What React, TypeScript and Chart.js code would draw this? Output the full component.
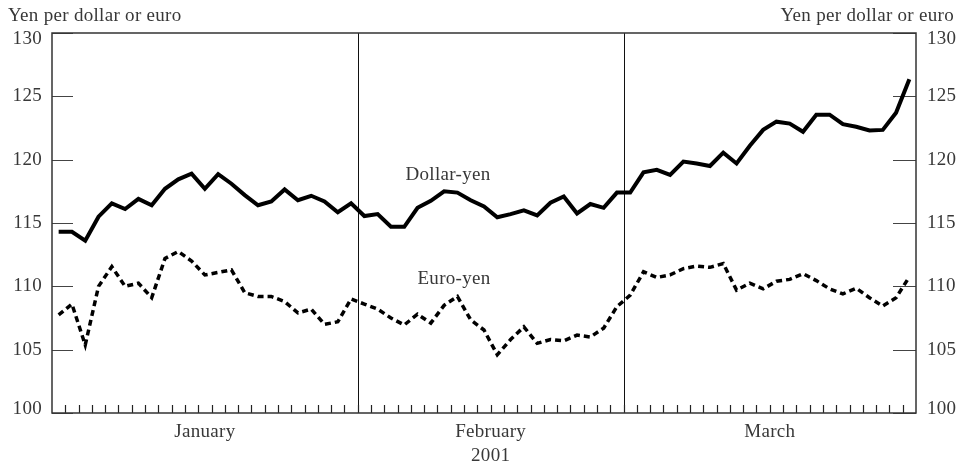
import React, { useEffect, useRef } from "react";
import { Chart, registerables } from "chart.js";

Chart.register(...registerables);

// Business days of each month, 2001
const janDays = [1, 2, 3, 4, 5, 8, 9, 10, 11, 12, 15, 16, 17, 18, 19, 22, 23, 24, 25, 26, 29, 30, 31];
const febDays = [1, 2, 5, 6, 7, 8, 9, 12, 13, 14, 15, 16, 19, 20, 21, 22, 23, 26, 27, 28];
const marDays = [1, 2, 5, 6, 7, 8, 9, 12, 13, 14, 15, 16, 19, 20, 21, 22, 23, 26, 27, 28, 29, 30];
const monthNames = ["January", "February", "March"];
const yearLabel = "2001";
const yTicks = [100, 105, 110, 115, 120, 125, 130];
const axisTitle = "Yen per dollar or euro";

const dollarYen = [
  114.3, 114.3, 113.6, 115.5, 116.55, 116.1, 116.9, 116.4, 117.7, 118.45, 118.9, 117.7,
  118.85, 118.1, 117.2, 116.4, 116.7, 117.65, 116.8, 117.15, 116.7, 115.85, 116.55,
  115.55, 115.7, 114.7, 114.7, 116.2, 116.75, 117.5, 117.4, 116.8, 116.3, 115.45, 115.7,
  116.0, 115.6, 116.6, 117.1, 115.75, 116.5, 116.2, 117.4,
  117.4, 119.0, 119.2, 118.8, 119.85, 119.7, 119.5, 120.55, 119.7, 121.1, 122.35, 123.0,
  122.85, 122.2, 123.55, 123.55, 122.8, 122.6, 122.3, 122.35, 123.7, 126.35,
];

const euroYen = [
  107.74, 108.6, 105.37, 110.0, 111.55, 110.0, 110.25, 109.1, 112.2, 112.75, 112.0, 110.9,
  111.1, 111.3, 109.5, 109.2, 109.2, 108.8, 107.9, 108.2, 107.0, 107.2, 109.0,
  108.6, 108.2, 107.5, 106.95, 107.8, 107.1, 108.5, 109.2, 107.35, 106.55, 104.6, 105.8,
  106.8, 105.5, 105.8, 105.7, 106.15, 106.0, 106.7, 108.4,
  109.3, 111.15, 110.7, 110.9, 111.4, 111.6, 111.5, 111.8, 109.7, 110.25, 109.8, 110.4,
  110.55, 111.0, 110.45, 109.8, 109.4, 109.85, 109.1, 108.45, 109.1, 110.75,
];

const categories = [
  ...janDays.map((d) => `Jan ${d}`),
  ...febDays.map((d) => `Feb ${d}`),
  ...marDays.map((d) => `Mar ${d}`),
];
const monthCounts = [janDays.length, febDays.length, marDays.length];

const FONT = "19px 'Liberation Serif', 'Times New Roman', serif";
const TEXT = "#383838";

const decorPlugin = {
  id: "decor",
  beforeDatasetsDraw(chart: any) {
    const { ctx, chartArea } = chart;
    const x = chart.scales.x;
    const y = chart.scales.y;
    const step = x.getPixelForValue(1) - x.getPixelForValue(0);
    const { left, right, top, bottom } = chartArea;
    ctx.save();
    // month dividers
    ctx.strokeStyle = "#111";
    ctx.lineWidth = 1;
    let idx = 0;
    for (let m = 0; m < monthCounts.length - 1; m++) {
      idx += monthCounts[m];
      const px = Math.round(x.getPixelForValue(idx) - step / 2) + 0.5;
      ctx.beginPath();
      ctx.moveTo(px, top);
      ctx.lineTo(px, bottom);
      ctx.stroke();
    }
    // bottom ticks (inward)
    ctx.strokeStyle = "#222";
    ctx.lineWidth = 1.2;
    for (let i = 1; i < categories.length; i++) {
      const px = Math.round(x.getPixelForValue(i) - step / 2) + 0.5;
      ctx.beginPath();
      ctx.moveTo(px, bottom);
      ctx.lineTo(px, bottom - 8);
      ctx.stroke();
    }
    // y ticks (inward, both sides)
    ctx.strokeStyle = "#444";
    ctx.lineWidth = 1.2;
    for (const v of yTicks) {
      const py = Math.round(y.getPixelForValue(v)) + 0.5;
      ctx.beginPath();
      ctx.moveTo(left, py);
      ctx.lineTo(left + 21, py);
      ctx.moveTo(right, py);
      ctx.lineTo(right - 23, py);
      ctx.stroke();
    }
    // frame
    ctx.strokeStyle = "#333";
    ctx.lineWidth = 1.5;
    ctx.strokeRect(left, top, right - left, bottom - top);
    ctx.restore();
  },
  afterDraw(chart: any) {
    const { ctx, chartArea } = chart;
    const x = chart.scales.x;
    const y = chart.scales.y;
    const step = x.getPixelForValue(1) - x.getPixelForValue(0);
    const { left, right, bottom } = chartArea;
    ctx.save();
    ctx.font = FONT;
    ctx.fillStyle = TEXT;
    try {
      (ctx as any).letterSpacing = "0.3px";
    } catch (e) {}
    // axis titles
    ctx.textBaseline = "alphabetic";
    ctx.textAlign = "left";
    ctx.fillText(axisTitle, 8, 21);
    ctx.textAlign = "right";
    ctx.fillText(axisTitle, 954, 21);
    // y tick labels
    ctx.textBaseline = "middle";
    for (const v of yTicks) {
      let py = y.getPixelForValue(v);
      if (v === 130) py += 6;
      if (v === 100) py -= 4;
      ctx.textAlign = "right";
      ctx.fillText(String(v), left - 10, py);
      ctx.textAlign = "left";
      ctx.fillText(String(v), right + 11, py);
    }
    // month labels
    ctx.textAlign = "center";
    ctx.textBaseline = "alphabetic";
    let start = 0;
    const centers: number[] = [];
    for (let m = 0; m < monthCounts.length; m++) {
      const a = x.getPixelForValue(start) - step / 2;
      const b = x.getPixelForValue(start + monthCounts[m] - 1) + step / 2;
      const c = (a + b) / 2;
      centers.push(c);
      ctx.fillText(monthNames[m], c, bottom + 24);
      start += monthCounts[m];
    }
    ctx.fillText(yearLabel, centers[1], bottom + 48);
    // series labels
    ctx.fillText("Dollar-yen", 448, 180);
    ctx.fillText("Euro-yen", 454, 284);
    ctx.restore();
  },
};

export default function App() {
  const ref = useRef<HTMLCanvasElement | null>(null);
  useEffect(() => {
    if (!ref.current) return;
    const chart = new Chart(ref.current, {
      type: "line",
      data: {
        labels: categories,
        datasets: [
          {
            label: "Dollar-yen",
            data: dollarYen,
            borderColor: "#000",
            borderWidth: 4,
            pointRadius: 0,
            tension: 0,
            fill: false,
            borderJoinStyle: "miter",
          },
          {
            label: "Euro-yen",
            data: euroYen,
            borderColor: "#000",
            borderWidth: 3.5,
            borderDash: [6, 4],
            pointRadius: 0,
            tension: 0,
            fill: false,
          },
        ],
      },
      options: {
        responsive: false,
        animation: false,
        events: [],
        layout: { padding: { left: 52, right: 45, top: 33, bottom: 55 } },
        plugins: { legend: { display: false }, tooltip: { enabled: false } },
        scales: {
          x: { type: "category", offset: true, display: false },
          y: { min: 100, max: 130, display: false },
        },
      },
      plugins: [decorPlugin],
    });
    return () => chart.destroy();
  }, []);
  return (
    <div style={{ position: "fixed", left: 0, top: 0, width: 961, height: 468, background: "#fff" }}>
      <canvas ref={ref} width={961} height={468} style={{ display: "block" }} />
    </div>
  );
}
